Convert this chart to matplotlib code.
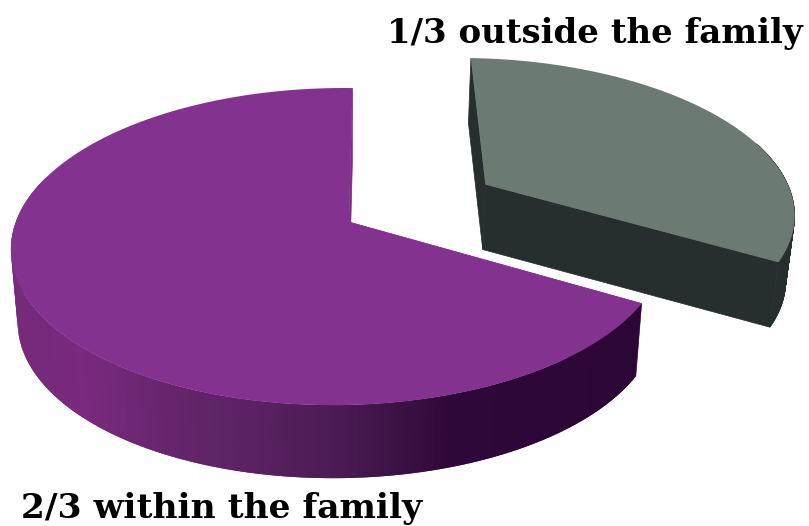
import numpy as np
import matplotlib
matplotlib.use("Agg")
import matplotlib.pyplot as plt
from matplotlib.colors import to_rgb

# Chart data
labels = ["2/3 within the family", "1/3 outside the family"]
shares = [2 / 3, 1 / 3]
explode = [0.0, 0.51]
top_colors = ["#843290", "#6b7a72"]
side_colors = [None, "#262e2e"]
inner_colors = ["#7d2d84", "#262e2e"]
slice_depth = [73, 65]
slice_radius = [1.0, 1.03]

# Side shading of the purple slice, by screen x
shade_x = [20, 80, 150, 250, 350, 450, 640]
shade_colors = ["#752a7a", "#7a2a80", "#6a2670", "#5a2262", "#481a50", "#2e0838", "#2c0636"]

# Fake 3D projection, all in pixels
APEX_X, APEX_Y = 349, 222
A, B = 323, 154.7
K_Y, K_X = 0.155, 0.0306
SHEAR = 4
X_SHRINK = 0.98


def project(gx, gy):
    w = 1 + K_Y * gy + K_X * gx
    return APEX_X + (A * gx + SHEAR * gy) / w, APEX_Y - B * gy / w


def lower(sx, sy, depth):
    return APEX_X + X_SHRINK * (sx - APEX_X), sy + depth


def shade(x):
    rgb = np.array([to_rgb(c) for c in shade_colors])
    return [np.interp(x, shade_x, rgb[:, i]) for i in range(3)]


fig = plt.figure(figsize=(8.09, 5.26), dpi=100)
ax = fig.add_axes([0, 0, 1, 1])
ax.set_xlim(0, 809)
ax.set_ylim(526, 0)
ax.axis("off")

start = 90.0
for i, share in enumerate(shares):
    # Big slice runs counter clockwise from the top, small one takes the rest
    end = start + share * 360
    mid = np.radians((start + end) / 2)
    off_x = explode[i] * np.cos(mid)
    off_y = explode[i] * np.sin(mid)
    t = np.radians(np.linspace(start, end, 241))
    r = slice_radius[i]
    top_x, top_y = project(off_x + r * np.cos(t), off_y + r * np.sin(t))
    cen_x, cen_y = project(off_x, off_y)
    low_x, low_y = lower(top_x, top_y, slice_depth[i])
    low_cx, low_cy = lower(cen_x, cen_y, slice_depth[i])
    z = 2 * i

    # Flat walls go first
    ax.fill([cen_x, top_x[0], low_x[0], low_cx], [cen_y, top_y[0], low_y[0], low_cy],
            color=inner_colors[i], lw=0.5, zorder=z)
    ax.fill([cen_x, top_x[-1], low_x[-1], low_cx], [cen_y, top_y[-1], low_y[-1], low_cy],
            color=inner_colors[i], lw=0.5, zorder=z)

    # Outer wall in overlapping strips so the shading has no seams, back part is hidden anyway
    strip_lw = 0.4 if side_colors[i] else 0
    for j in range(len(t) - 2):
        if np.sin(t[j]) > 0.3:
            continue
        c = side_colors[i] if side_colors[i] else shade((top_x[j] + top_x[j + 1]) / 2)
        ax.fill([top_x[j], top_x[j + 2], low_x[j + 2], low_x[j]],
                [top_y[j], top_y[j + 2], low_y[j + 2], low_y[j]],
                color=c, lw=strip_lw, zorder=z)

    # Top face
    ax.fill(np.r_[cen_x, top_x], np.r_[cen_y, top_y], color=top_colors[i], lw=0, zorder=z + 1)
    start = end

# Labels
ax.text(595, 43, labels[1], fontsize=24.5, family="DejaVu Serif", weight="bold",
        ha="center", va="baseline", color="black")
ax.text(222, 518, labels[0], fontsize=24.8, family="DejaVu Serif", weight="bold",
        ha="center", va="baseline", color="black")

fig.savefig("out.png", dpi=100)
